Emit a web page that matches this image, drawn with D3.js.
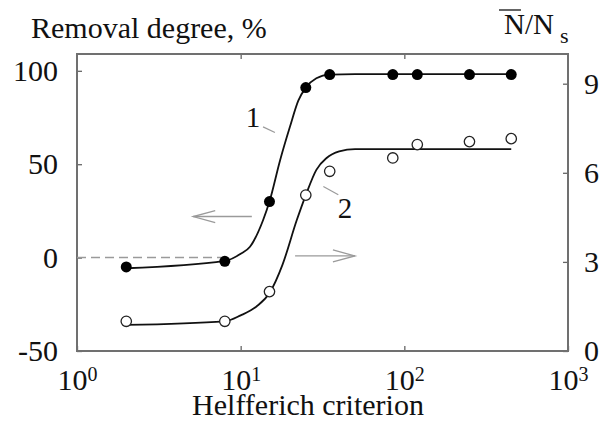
<!DOCTYPE html>
<html>
<head>
<meta charset="utf-8">
<script src="https://cdn.jsdelivr.net/npm/d3@7"></script>
<style>
  body { margin: 0; background: #fff; }
  text { font-family: "Liberation Serif", "Times New Roman", serif; fill: #111; }
</style>
</head>
<body>
<div id="container"></div>
<script>
/* DATA */
const helfferich = [2, 8, 15, 25, 35, 85, 120, 250, 450];
const removal = [-5, -2, 30, 91, 98, 98, 98, 98, 98];            // curve 1, left axis, %
const ratio = [1.0, 1.0, 2.0, 5.25, 6.05, 6.5, 6.95, 7.05, 7.15];  // curve 2, right axis

// fitted lines
const fit1X = [2, 8, 10, 11.4, 13.7, 15, 17.4, 20, 22.5, 25, 29, 35, 50, 450];
const fit1Y = [-5.7, -1.8, 2, 5.8, 20, 30, 52, 70, 84, 91, 96, 98, 98.2, 98.2];
const fit2X = [2, 8, 10, 12.5, 15, 18, 22, 25, 29, 33.5, 40, 50, 450];
const fit2Y = [0.88, 1.0, 1.2, 1.5, 1.95, 2.9, 4.4, 5.25, 6.1, 6.5, 6.72, 6.8, 6.8];

const leftTicks = [-50, 0, 50, 100];
const rightTicks = [0, 3, 6, 9];
const xTicks = [1, 10, 100, 1000];

/* CONSTANTS */
const width = 600, height = 421,
  margin = { top: 54, bottom: 70, left: 77, right: 32 };

/* SCALES */
const xScale = d3.scaleLog()
  .domain([1, 1000])
  .range([margin.left, width - margin.right]);

const yLeft = d3.scaleLinear()
  .domain([-50, 109])
  .range([height - margin.bottom, margin.top]);

const yRight = d3.scaleLinear()
  .domain([0, 10])
  .range([height - margin.bottom, margin.top]);

const svg = d3.select("#container")
  .append("svg")
  .attr("width", width)
  .attr("height", height);

// axes, ticks pointing inward
const gLeft = svg.append("g")
  .attr("transform", `translate(${margin.left},0)`)
  .call(d3.axisLeft(yLeft).tickValues(leftTicks).tickSize(-5).tickPadding(19)
    .tickFormat(d => String(d)));

const gRight = svg.append("g")
  .attr("transform", `translate(${width - margin.right},0)`)
  .call(d3.axisRight(yRight).tickValues(rightTicks).tickSize(-5).tickPadding(16)
    .tickFormat(d => String(d)));

const gBottom = svg.append("g")
  .attr("transform", `translate(0,${height - margin.bottom})`)
  .call(d3.axisBottom(xScale).tickValues(xTicks).tickSize(-5).tickFormat(""));

svg.append("g")
  .attr("transform", `translate(0,${margin.top})`)
  .call(d3.axisTop(xScale).tickValues([10, 100]).tickSize(-5).tickFormat(""))
  .selectAll("text").remove();

svg.selectAll(".domain").remove();
svg.selectAll(".tick line").attr("stroke", "#666").attr("stroke-width", 1.3);
svg.selectAll(".tick text")
  .attr("font-size", 30)
  .attr("fill", "#111");

// 10^n labels
gBottom.selectAll(".tick text")
  .attr("y", 39)
  .attr("dy", 0)
  .attr("text-anchor", "middle")
  .each(function(d) {
    const t = d3.select(this);
    t.text("10");
    t.append("tspan")
      .attr("font-size", 20)
      .attr("dy", -9)
      .text(Math.round(Math.log10(d)));
  });

// frame
svg.append("rect")
  .attr("x", margin.left)
  .attr("y", margin.top)
  .attr("width", width - margin.left - margin.right)
  .attr("height", height - margin.top - margin.bottom)
  .attr("fill", "none")
  .attr("stroke", "#707070")
  .attr("stroke-width", 2);

// dashed zero line up to the second point
svg.append("line")
  .attr("x1", xScale(1))
  .attr("x2", xScale(helfferich[1]))
  .attr("y1", yLeft(0))
  .attr("y2", yLeft(0))
  .attr("stroke", "#9a9a9a")
  .attr("stroke-width", 1.5)
  .attr("stroke-dasharray", "9,5");

// fitted curves
const line1 = d3.line()
  .x(d => xScale(d[0]))
  .y(d => yLeft(d[1]))
  .curve(d3.curveMonotoneX);

const line2 = d3.line()
  .x(d => xScale(d[0]))
  .y(d => yRight(d[1]))
  .curve(d3.curveMonotoneX);

svg.append("path")
  .datum(d3.zip(fit1X, fit1Y))
  .attr("d", line1)
  .attr("fill", "none")
  .attr("stroke", "#111")
  .attr("stroke-width", 1.8);

svg.append("path")
  .datum(d3.zip(fit2X, fit2Y))
  .attr("d", line2)
  .attr("fill", "none")
  .attr("stroke", "#111")
  .attr("stroke-width", 1.8);

// points
svg.selectAll("circle.filled")
  .data(d3.zip(helfferich, removal))
  .join("circle")
  .attr("class", "filled")
  .attr("cx", d => xScale(d[0]))
  .attr("cy", d => yLeft(d[1]))
  .attr("r", 5.5)
  .attr("fill", "#000");

svg.selectAll("circle.open")
  .data(d3.zip(helfferich, ratio))
  .join("circle")
  .attr("class", "open")
  .attr("cx", d => xScale(d[0]))
  .attr("cy", d => yRight(d[1]))
  .attr("r", 5.2)
  .attr("fill", "#fff")
  .attr("stroke", "#222")
  .attr("stroke-width", 1.3);

// direction arrows (which axis each curve belongs to)
function arrow(x1, x2, y) {
  const dir = Math.sign(x2 - x1);
  const g = svg.append("g")
    .attr("stroke", "#9a9a9a")
    .attr("stroke-width", 1.3)
    .attr("fill", "none");
  g.append("line").attr("x1", x1).attr("x2", x2).attr("y1", y).attr("y2", y);
  g.append("path").attr("d", `M${x2 - dir * 22},${y - 6}L${x2},${y}L${x2 - dir * 22},${y + 6}`);
}
arrow(xScale(11.7), xScale(5.13), yLeft(22));
arrow(xScale(21.5), xScale(49.9), yRight(3.2));

// curve labels with leader lines
const leaders = [
  { text: "1", x: 11.9, y: 75.4, lx1: 13.7, ly1: 70, lx2: 16.2, ly2: 67, scale: yLeft },
  { text: "2", x: 43.4, y: 4.81, lx1: 32, ly1: 5.54, lx2: 39.5, ly2: 5.26, scale: yRight }
];
leaders.forEach(d => {
  const yS = d.scale;
  svg.append("line")
    .attr("x1", xScale(d.lx1)).attr("y1", yS(d.ly1))
    .attr("x2", xScale(d.lx2)).attr("y2", yS(d.ly2))
    .attr("stroke", "#9a9a9a")
    .attr("stroke-width", 1.2);
  svg.append("text")
    .attr("x", xScale(d.x))
    .attr("y", yS(d.y))
    .attr("dy", "0.34em")
    .attr("text-anchor", "middle")
    .attr("font-size", 29)
    .text(d.text);
});

// axis titles
svg.append("text")
  .attr("x", 31)
  .attr("y", 38)
  .attr("font-size", 30)
  .text("Removal degree, %");

const nTitle = svg.append("text")
  .attr("x", 504)
  .attr("y", 34)
  .attr("font-size", 29);
nTitle.append("tspan").text("N");
nTitle.append("tspan").text("/N");
nTitle.append("tspan").attr("font-size", 22).attr("dx", 6).attr("dy", 9).text("s");

const ext = nTitle.node().getExtentOfChar(0);
svg.append("line")
  .attr("x1", ext.x - 5)
  .attr("x2", ext.x + ext.width - 4)
  .attr("y1", ext.y + 2)
  .attr("y2", ext.y + 2)
  .attr("stroke", "#111")
  .attr("stroke-width", 1.3);

svg.append("text")
  .attr("x", 308)
  .attr("y", 415)
  .attr("text-anchor", "middle")
  .attr("font-size", 30)
  .text("Helfferich criterion");
</script>
</body>
</html>
